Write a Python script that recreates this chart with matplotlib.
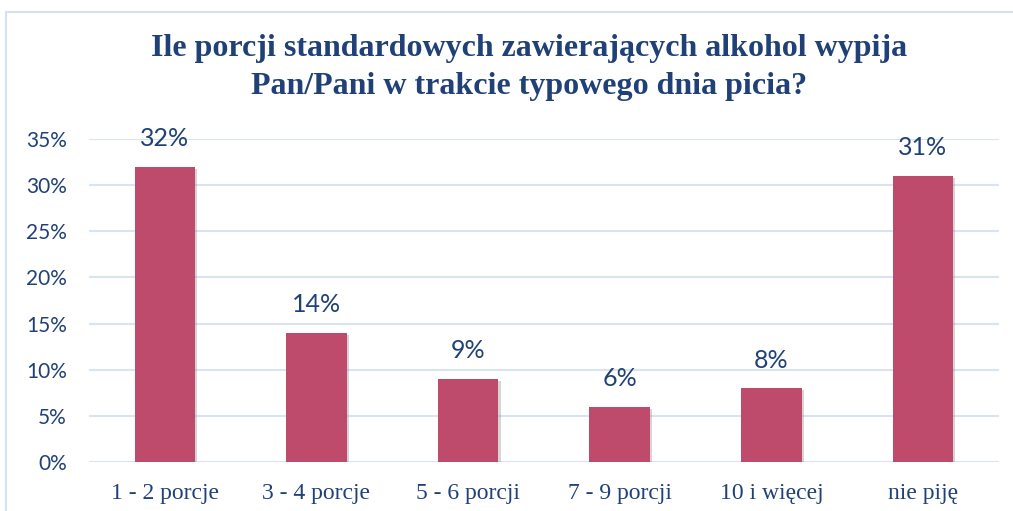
import matplotlib
matplotlib.use('Agg')
import matplotlib.pyplot as plt
import matplotlib.patheffects as pe
from matplotlib.patches import Rectangle
from matplotlib.ticker import FuncFormatter
import numpy as np

# dane
categories = ['1 - 2 porcje', '3 - 4 porcje', '5 - 6 porcji', '7 - 9 porcji', '10 i więcej', 'nie piję']
values = [0.32, 0.14, 0.09, 0.06, 0.08, 0.31]
title = 'Ile porcji standardowych zawierających alkohol wypija\nPan/Pani w trakcie typowego dnia picia?'

bar_color = '#BE4B6C'
text_color = '#1F4177'
grid_color = '#D9E4F2'

fig = plt.figure(figsize=(10.13, 5.11), dpi=100)
ax = fig.add_axes([0.0879, 0.0959, 0.8981, 0.632])

x = np.arange(len(categories))
bars = ax.bar(x, values, width=0.4, color=bar_color, zorder=3)
for b in bars:
    b.set_path_effects([pe.SimplePatchShadow(offset=(1.5, -1.5), shadow_rgbFace='#888888', alpha=0.35),
                        pe.Normal()])

# etykiety danych
for xi, v in zip(x, values):
    ax.annotate(f'{v*100:.0f}%', (xi, v), xytext=(0, 12), textcoords='offset points',
                ha='center', va='bottom', fontsize=18, color=text_color, family='Lato')

ax.set_xlim(-0.5, len(categories) - 0.5)
ax.set_ylim(0, 0.35)
ax.set_yticks(np.arange(0, 0.351, 0.05))
ax.yaxis.set_major_formatter(FuncFormatter(lambda v, p: f'{v*100:.0f}%'))
ax.set_xticks(x)
ax.set_xticklabels(categories, family='Liberation Serif', fontsize=17, color=text_color)
for t in ax.get_yticklabels():
    t.set_family('Lato')
    t.set_fontsize(15)
    t.set_color(text_color)
ax.tick_params(axis='both', length=0)
ax.tick_params(axis='y', pad=16)
ax.tick_params(axis='x', pad=15)

ax.grid(axis='y', color=grid_color, linewidth=1.5, zorder=0)
for s in ax.spines.values():
    s.set_visible(False)

# tytuł - dwie linie, linie bazowe jak w oryginale
for line, base in zip(title.split('\n'), [56, 94]):
    fig.text(0.522, 1 - base / 511, line, ha='center', va='baseline', fontsize=23, fontweight='bold',
             family='Liberation Serif', color=text_color)

# ramka wykresu
fig.patches.append(Rectangle((6 / 1013, -0.05), 1.1, 1 - 12 / 511 + 0.05, transform=fig.transFigure,
                             fill=False, edgecolor='#D5E2F3', linewidth=1.5))

fig.savefig('out.png', dpi=100)
